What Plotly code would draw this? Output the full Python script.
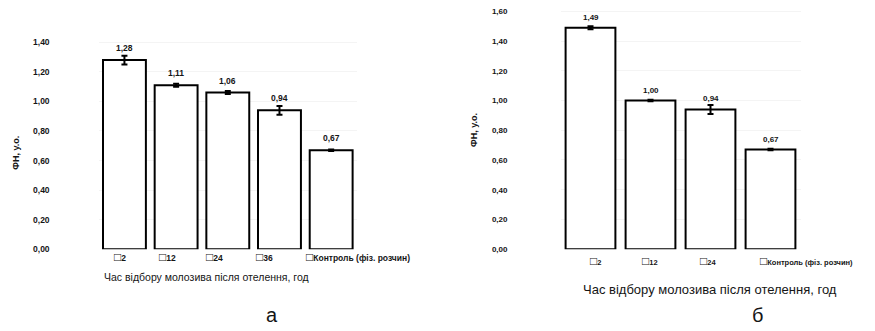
import plotly.graph_objects as go

W, H = 875, 331

# ---- data ----
cats_a = ["2", "12", "24", "36", "Контроль (фіз. розчин)"]
vals_a = [1.28, 1.11, 1.06, 0.94, 0.67]
err_a = [0.03, 0.01, 0.01, 0.03, 0.005]

cats_b = ["2", "12", "24", "Контроль (фіз. розчин)"]
vals_b = [1.49, 1.00, 0.94, 0.67]
err_b = [0.01, 0.005, 0.03, 0.005]

yticks_a = [0, 0.2, 0.4, 0.6, 0.8, 1.0, 1.2, 1.4]
yticks_b = [0, 0.2, 0.4, 0.6, 0.8, 1.0, 1.2, 1.4, 1.6]

y_title = "ФН, у.о."
x_title = "Час відбору молозива після отелення, год"

FONT = "Liberation Sans, Arial, sans-serif"
INK = "#151515"

def px(x):
    return x / W

def py(y):
    return 1 - y / H

fig = go.Figure()

fig.add_trace(go.Bar(
    x=list(range(len(cats_a))), y=vals_a,
    marker=dict(color="white", line=dict(color="black", width=2)),
    error_y=dict(type="data", array=err_a, color="black", thickness=2, width=3),
    xaxis="x", yaxis="y", showlegend=False, hoverinfo="y",
))
fig.add_trace(go.Bar(
    x=list(range(len(cats_b))), y=vals_b,
    marker=dict(color="white", line=dict(color="black", width=2)),
    error_y=dict(type="data", array=err_b, color="black", thickness=2, width=3),
    xaxis="x2", yaxis="y2", showlegend=False, hoverinfo="y",
))

bold = lambda s: dict(family=FONT, size=s, color=INK, weight="bold")
BOX = "<span style='font-size:12px'>□</span>"

annotations = []
# value labels
for i, v in enumerate(vals_a):
    annotations.append(dict(x=i, y=v, xref="x", yref="y", text=f"{v:.2f}".replace(".", ","),
                            showarrow=False, xanchor="center", yanchor="bottom", yshift=5,
                            font=bold(8.5)))
for i, v in enumerate(vals_b):
    annotations.append(dict(x=i, y=v, xref="x2", yref="y2", text=f"{v:.2f}".replace(".", ","),
                            showarrow=False, xanchor="center", yanchor="bottom", yshift=4,
                            font=bold(8)))

# legend-like category labels
leg_x_a = [112, 157, 204, 254, 304]
for c, xx in zip(cats_a, leg_x_a):
    annotations.append(dict(x=px(xx), y=py(261), xref="paper", yref="paper", text=BOX + c,
                            showarrow=False, xanchor="left", yanchor="middle",
                            font=bold(8.5)))
leg_x_b = [588, 640, 698, 758]
for c, xx in zip(cats_b, leg_x_b):
    annotations.append(dict(x=px(xx), y=py(265), xref="paper", yref="paper", text=BOX + c,
                            showarrow=False, xanchor="left", yanchor="middle",
                            font=bold(7.5)))

# axis titles
annotations += [
    dict(x=px(16), y=py(155), xref="paper", yref="paper", text=y_title, textangle=-90,
         showarrow=False, xanchor="center", yanchor="middle", font=bold(9)),
    dict(x=px(474), y=py(132), xref="paper", yref="paper", text=y_title, textangle=-90,
         showarrow=False, xanchor="center", yanchor="middle", font=bold(9)),
    dict(x=px(206), y=py(281), xref="paper", yref="paper", text=x_title,
         showarrow=False, xanchor="center", yanchor="middle",
         font=dict(family=FONT, size=10.5, color=INK)),
    dict(x=px(710), y=py(294), xref="paper", yref="paper", text=x_title,
         showarrow=False, xanchor="center", yanchor="middle",
         font=dict(family=FONT, size=13, color=INK)),
    dict(x=px(272), y=py(320), xref="paper", yref="paper", text="а",
         showarrow=False, xanchor="center", yanchor="middle",
         font=dict(family=FONT, size=20, color=INK)),
    dict(x=px(757), y=py(320), xref="paper", yref="paper", text="б",
         showarrow=False, xanchor="center", yanchor="middle",
         font=dict(family=FONT, size=20, color=INK)),
]

fig.update_layout(
    width=W, height=H,
    margin=dict(l=0, r=0, t=0, b=0),
    paper_bgcolor="white", plot_bgcolor="white",
    separators=", ",
    bargap=0.17,
    xaxis=dict(domain=[px(98.6), px(357)], range=[-0.5, 4.5], showticklabels=False,
               showgrid=False, zeroline=False, showline=False, ticks=""),
    yaxis=dict(domain=[py(253), py(28)], range=[0, 1.5], tickvals=yticks_a, tickformat=".2f",
               tickfont=bold(8.5), showgrid=True, gridcolor="#f4f4f4", zeroline=False,
               showline=False, ticks="", ticklabelstandoff=48),
    xaxis2=dict(domain=[px(560.5), px(800.5)], range=[-0.5, 3.5], showticklabels=False,
                showgrid=False, zeroline=False, showline=False, ticks="", anchor="y2"),
    yaxis2=dict(domain=[py(253), py(4)], range=[0, 1.65], tickvals=yticks_b, tickformat=".2f",
                tickfont=bold(8), showgrid=True,
                gridcolor="#f4f4f4", zeroline=False, showline=False, ticks="",
                ticklabelstandoff=52, anchor="x2"),
    annotations=annotations,
)

fig.write_html("out.html", config={"displayModeBar": False},
               post_script="document.body.style.margin='0';")
